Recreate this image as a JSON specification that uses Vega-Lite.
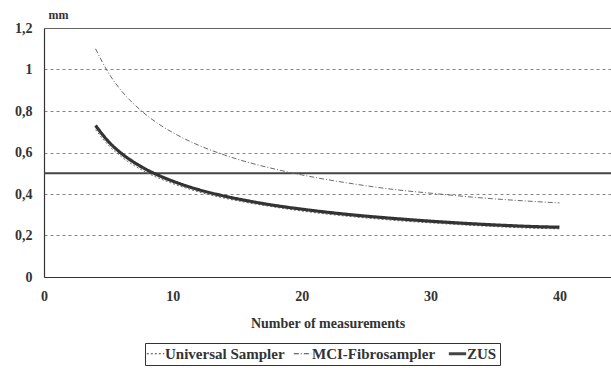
{
  "$schema": "https://vega.github.io/schema/vega-lite/v6.json",
  "width": 567,
  "height": 249,
  "autosize": {"type": "none"},
  "padding": {"left": 44, "top": 28, "right": 0, "bottom": 99},
  "background": "white",
  "config": {
    "view": {"stroke": null},
    "font": "Liberation Serif",
    "axis": {"labelFont": "Liberation Serif", "titleFont": "Liberation Serif", "labelFontWeight": "bold", "titleFontWeight": "bold", "labelColor": "#333", "titleColor": "#333"}
  },
  "layer": [
    {
      "data": {"values": [{"y": 0.5}]},
      "mark": {"type": "rule", "color": "#444", "strokeWidth": 1.8},
      "encoding": {"y": {"field": "y", "type": "quantitative", "scale": {"domain": [0, 1.2]}}}
    },
    {
      "data": {"values": [
        {"n":4,"s":"MCI-Fibrosampler","v":1.10},
        {"n":5,"s":"MCI-Fibrosampler","v":0.984},
        {"n":6,"s":"MCI-Fibrosampler","v":0.898},
        {"n":7,"s":"MCI-Fibrosampler","v":0.832},
        {"n":8,"s":"MCI-Fibrosampler","v":0.778},
        {"n":9,"s":"MCI-Fibrosampler","v":0.733},
        {"n":10,"s":"MCI-Fibrosampler","v":0.696},
        {"n":11,"s":"MCI-Fibrosampler","v":0.663},
        {"n":12,"s":"MCI-Fibrosampler","v":0.635},
        {"n":14,"s":"MCI-Fibrosampler","v":0.588},
        {"n":16,"s":"MCI-Fibrosampler","v":0.550},
        {"n":18,"s":"MCI-Fibrosampler","v":0.519},
        {"n":20,"s":"MCI-Fibrosampler","v":0.492},
        {"n":22,"s":"MCI-Fibrosampler","v":0.469},
        {"n":24,"s":"MCI-Fibrosampler","v":0.449},
        {"n":26,"s":"MCI-Fibrosampler","v":0.431},
        {"n":28,"s":"MCI-Fibrosampler","v":0.416},
        {"n":30,"s":"MCI-Fibrosampler","v":0.404},
        {"n":32,"s":"MCI-Fibrosampler","v":0.392},
        {"n":34,"s":"MCI-Fibrosampler","v":0.381},
        {"n":36,"s":"MCI-Fibrosampler","v":0.372},
        {"n":38,"s":"MCI-Fibrosampler","v":0.364},
        {"n":40,"s":"MCI-Fibrosampler","v":0.357},
        {"n":4,"s":"Universal Sampler","v":0.71},
        {"n":5,"s":"Universal Sampler","v":0.635},
        {"n":6,"s":"Universal Sampler","v":0.58},
        {"n":7,"s":"Universal Sampler","v":0.537},
        {"n":8,"s":"Universal Sampler","v":0.502},
        {"n":9,"s":"Universal Sampler","v":0.474},
        {"n":10,"s":"Universal Sampler","v":0.45},
        {"n":11,"s":"Universal Sampler","v":0.429},
        {"n":12,"s":"Universal Sampler","v":0.41},
        {"n":14,"s":"Universal Sampler","v":0.38},
        {"n":16,"s":"Universal Sampler","v":0.356},
        {"n":18,"s":"Universal Sampler","v":0.336},
        {"n":20,"s":"Universal Sampler","v":0.318},
        {"n":22,"s":"Universal Sampler","v":0.303},
        {"n":24,"s":"Universal Sampler","v":0.29},
        {"n":26,"s":"Universal Sampler","v":0.279},
        {"n":28,"s":"Universal Sampler","v":0.269},
        {"n":30,"s":"Universal Sampler","v":0.261},
        {"n":32,"s":"Universal Sampler","v":0.253},
        {"n":34,"s":"Universal Sampler","v":0.246},
        {"n":36,"s":"Universal Sampler","v":0.24},
        {"n":38,"s":"Universal Sampler","v":0.235},
        {"n":40,"s":"Universal Sampler","v":0.232},
        {"n":4,"s":"ZUS","v":0.73},
        {"n":5,"s":"ZUS","v":0.653},
        {"n":6,"s":"ZUS","v":0.596},
        {"n":7,"s":"ZUS","v":0.552},
        {"n":8,"s":"ZUS","v":0.516},
        {"n":9,"s":"ZUS","v":0.487},
        {"n":10,"s":"ZUS","v":0.462},
        {"n":11,"s":"ZUS","v":0.44},
        {"n":12,"s":"ZUS","v":0.421},
        {"n":14,"s":"ZUS","v":0.39},
        {"n":16,"s":"ZUS","v":0.365},
        {"n":18,"s":"ZUS","v":0.344},
        {"n":20,"s":"ZUS","v":0.327},
        {"n":22,"s":"ZUS","v":0.312},
        {"n":24,"s":"ZUS","v":0.299},
        {"n":26,"s":"ZUS","v":0.288},
        {"n":28,"s":"ZUS","v":0.278},
        {"n":30,"s":"ZUS","v":0.269},
        {"n":32,"s":"ZUS","v":0.261},
        {"n":34,"s":"ZUS","v":0.254},
        {"n":36,"s":"ZUS","v":0.248},
        {"n":38,"s":"ZUS","v":0.243},
        {"n":40,"s":"ZUS","v":0.24}
      ]},
      "mark": {"type": "line", "interpolate": "monotone"},
      "encoding": {
        "x": {"field": "n", "type": "quantitative", "scale": {"domain": [0, 44], "nice": false},
          "axis": {"values": [0, 10, 20, 30, 40], "grid": false, "ticks": false, "domainColor": "#333", "domainWidth": 1.2, "labelFontSize": 14, "labelPadding": 12, "labelFlush": false, "title": "Number of measurements", "titleFontSize": 14, "titlePadding": 13}},
        "y": {"field": "v", "type": "quantitative", "scale": {"domain": [0, 1.2], "nice": false},
          "axis": {"values": [0, 0.2, 0.4, 0.6, 0.8, 1, 1.2], "ticks": false, "domainColor": "#333", "domainWidth": 1.2, "labelFontSize": 14, "labelPadding": 12, "labelExpr": "replace(format(datum.value, '.1~f'), '.', ',')",
            "gridColor": "#666", "gridWidth": {"condition": {"test": "datum.value >= 1.2", "value": 1.2}, "value": 0.8},
            "gridDash": {"condition": {"test": "datum.value >= 1.2", "value": []}, "value": [3, 3]},
            "title": "mm", "titleAngle": 0, "titleAlign": "left", "titleBaseline": "middle", "titleX": 4, "titleY": -14, "titleFontSize": 12}},
        "strokeDash": {"field": "s", "type": "nominal",
          "scale": {"domain": ["Universal Sampler", "MCI-Fibrosampler", "ZUS"], "range": [[2, 2], [5, 2, 1, 2], [1, 0]]},
          "legend": {"orient": "none", "legendX": 101, "legendY": 315, "direction": "horizontal", "title": null, "strokeColor": "#333", "padding": 3, "labelFont": "Liberation Serif", "labelFontWeight": "bold", "labelFontSize": 15, "labelColor": "#333", "symbolType": "stroke", "symbolSize": 300, "columnPadding": 6, "labelOffset": 2,
            "symbolStrokeColor": "#444",
            "encode": {"symbols": {"update": {"strokeWidth": {"signal": "datum.value === 'ZUS' ? 3 : 1"}}}}}},
        "strokeWidth": {"condition": {"test": "datum.s === 'ZUS'", "value": 3.2}, "value": 1},
        "color": {"condition": {"test": "datum.s === 'ZUS'", "value": "#333"}, "value": "#6a6a6a"}
      }
    }
  ]
}
